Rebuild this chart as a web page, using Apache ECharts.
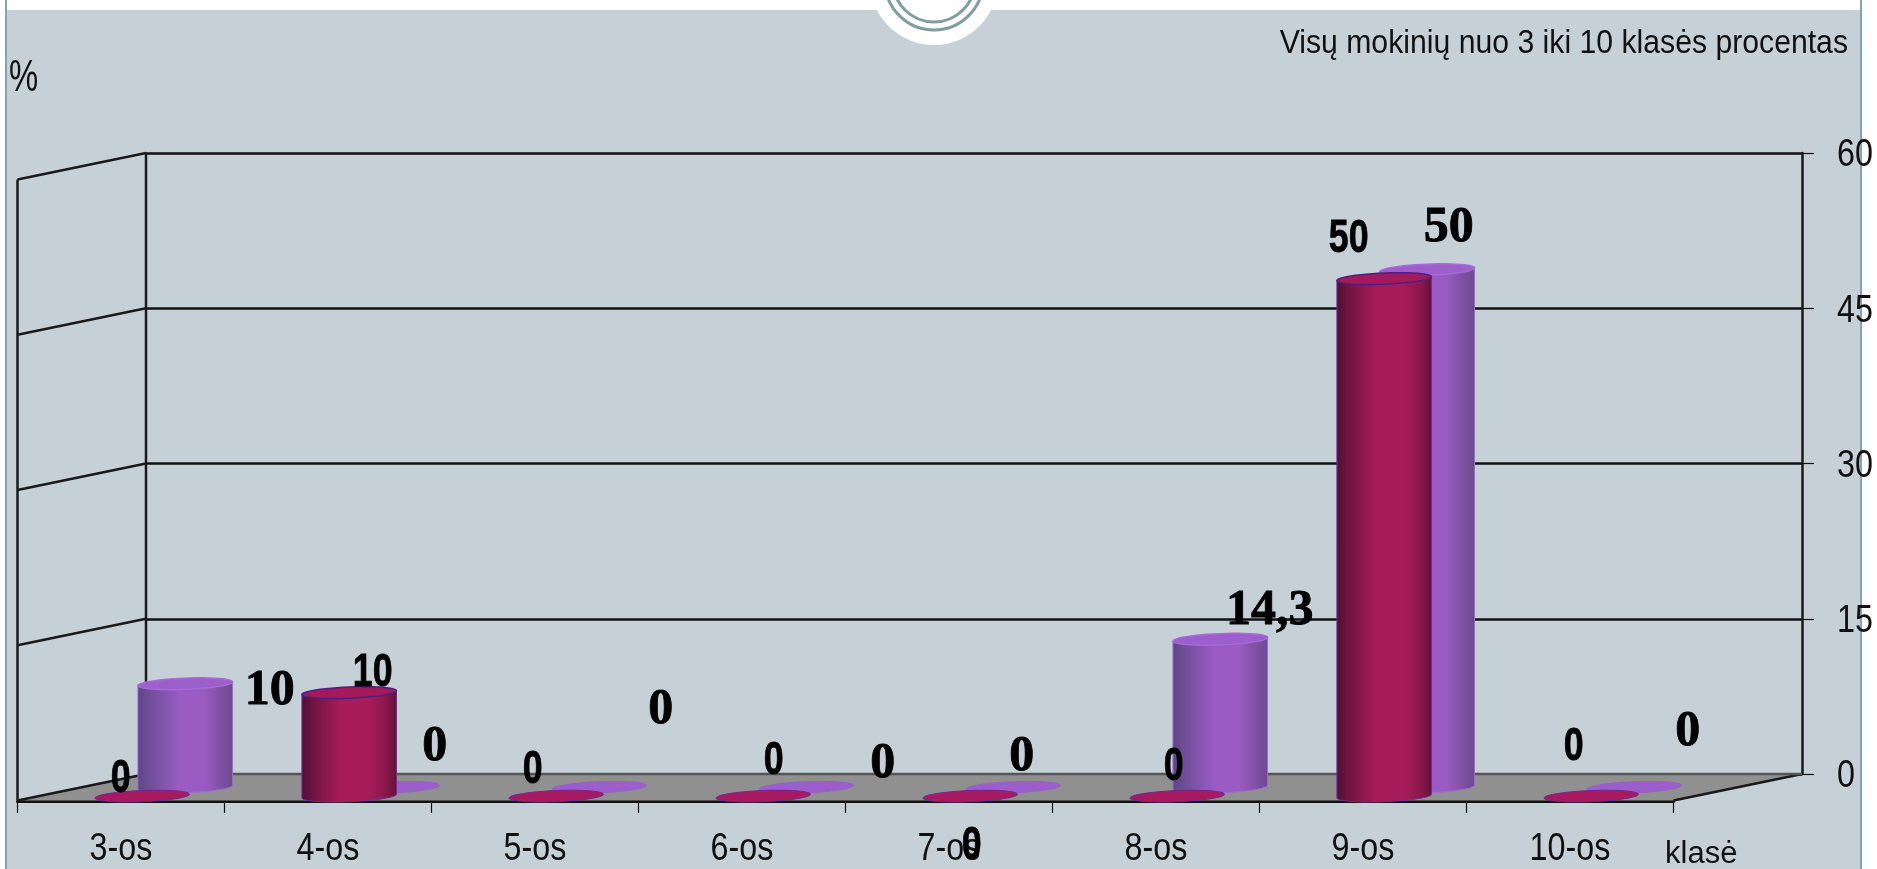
<!DOCTYPE html>
<html>
<head>
<meta charset="utf-8">
<style>html,body{margin:0;padding:0;background:#fff}#c{width:1877px;height:869px}</style>
<script src="https://cdn.jsdelivr.net/npm/echarts@6/dist/echarts.min.js"></script>
</head>
<body>
<div id="c"></div>
<script>
var categories = ['3-os','4-os','5-os','6-os','7-os','8-os','9-os','10-os'];
var frontValues = [0,10,0,0,0,0,50,0];
var backValues = [10,0,0,0,0,14.3,50,0];
var yMin = 0, yMax = 60, yStep = 15;
var yTicks = [0,15,30,45,60];
var titleText = 'Visų mokinių nuo 3 iki 10 klasės procentas';
var unitText = '%';
var axisName = 'klasė';

// label nudges, pixels from the top centre of each mark
var frontLabelNudge = [[-23,-21],[22,-23],[-25,-30],[9,-39],[0,46],[-5,-33],[-37,-43],[-19,-53]];
var backLabelNudge = [[83,4],[41,-44],[60,-81],[75,-27],[7,-34],[48,-32],[20,-45],[52,-59]];

var SANS = '"Liberation Sans",sans-serif';
var SERIF = '"Liberation Serif",serif';
var NARROW_X = 0.85;
var DEPTH_X = -128.5, DEPTH_Y = 26.5;
var FRONT_D = 0.835, BACK_D = 0.5;   // share of the depth from back wall to the front edge
var RX = 47.3, RY = 5.6, TILT = 0.04;

function ellipsePts(cx, cy, rx, ry) {
  var p = [];
  for (var k = 0; k < 48; k++) {
    var a = k / 48 * Math.PI * 2, x = cx + rx * Math.cos(a);
    p.push([x, cy + ry * Math.sin(a) - TILT * (x - cx)]);
  }
  return p;
}
function bodyPts(cx, yTop, yBase) {
  var p = [[cx - RX, yTop + TILT * RX]];
  for (var k = 0; k <= 24; k++) {
    var a = Math.PI - k / 24 * Math.PI, x = cx + RX * Math.cos(a);
    p.push([x, yBase + RY * Math.sin(a) - TILT * (x - cx)]);
  }
  p.push([cx + RX, yTop - TILT * RX]);
  return p;
}
function grad(stops) {
  return new echarts.graphic.LinearGradient(0, 0, 1, 0, stops.map(function (s) { return { offset: s[0], color: s[1] }; }));
}
function cylinderRender(d, stops, topFill, topStroke, edge, discFill, discStroke) {
  return function (params, api) {
    var top = api.coord([api.value(0), api.value(1)]);
    var base = api.coord([api.value(0), 0]);
    var cx = top[0] + d * DEPTH_X;
    var yTop = top[1] + d * DEPTH_Y;
    var yBase = base[1] + d * DEPTH_Y;
    if (api.value(1) === 0) {
      return { type: 'polygon', shape: { points: ellipsePts(cx, yBase, RX, RY) }, style: { fill: discFill, stroke: discStroke, lineWidth: 1 } };
    }
    return {
      type: 'group',
      children: [
        { type: 'polygon', shape: { points: bodyPts(cx, yTop, yBase) }, style: { fill: grad(stops), stroke: edge, lineWidth: 1 } },
        { type: 'polygon', shape: { points: ellipsePts(cx, yTop, RX, RY) }, style: { fill: topFill, stroke: topStroke, lineWidth: 1.5 } }
      ]
    };
  };
}
function squeezedText(x, y, text, font, scale, align, heavy) {
  var style = { x: 0, y: 0, text: text, font: font, fill: heavy ? '#000' : '#111', align: align, verticalAlign: 'middle' };
  if (heavy) { style.stroke = '#000'; style.lineWidth = 0.8; }
  return { type: 'text', x: x, y: y, scaleX: scale, silent: true, style: style };
}
function labelRender(d, nudge, font, scale) {
  return function (params, api) {
    var top = api.coord([api.value(0), api.value(1)]);
    var n = nudge[params.dataIndex];
    return squeezedText(top[0] + d * DEPTH_X + n[0] + 1.5, top[1] + d * DEPTH_Y + n[1] + 3.5,
      String(api.value(1)).replace('.', ','), font, scale, 'center', true);
  };
}
function xLabelRender(params, api) {
  var p = api.coord([api.value(0), 0]);
  return squeezedText(p[0], p[1] + 49, categories[params.dataIndex], '38px ' + SANS, NARROW_X, 'center');
}
function yLabelRender(params, api) {
  var r = params.coordSys;
  var y = api.coord([0, api.value(1)])[1];
  return squeezedText(r.x + r.width + 35, y + 3, String(api.value(1)), '38px ' + SANS, NARROW_X, 'left');
}
function frameRender(params, api) {
  var r = params.coordSys;
  var y = api.coord([0, api.value(1)])[1];
  var lineStyle = { stroke: '#1a1a1a', lineWidth: 2.5 };
  var kids = [];
  if (params.dataIndex === 0) {
    kids.push({ type: 'polygon', shape: { points: [[r.x, y], [r.x + r.width, y], [r.x + r.width + DEPTH_X, y + DEPTH_Y], [r.x + DEPTH_X, y + DEPTH_Y]] }, style: { fill: '#909090' } });
    kids.push({ type: 'line', shape: { x1: r.x, y1: r.y, x2: r.x, y2: y }, style: lineStyle });
    kids.push({ type: 'line', shape: { x1: r.x + DEPTH_X, y1: r.y + DEPTH_Y, x2: r.x + DEPTH_X, y2: y + DEPTH_Y }, style: lineStyle });
    kids.push({ type: 'line', shape: { x1: r.x + r.width, y1: y, x2: r.x + r.width + DEPTH_X, y2: y + DEPTH_Y }, style: lineStyle });
    kids.push({ type: 'line', shape: { x1: r.x, y1: y, x2: r.x + r.width, y2: y }, style: { stroke: '#555', lineWidth: 2.5 } });
  }
  kids.push({ type: 'line', shape: { x1: r.x, y1: y, x2: r.x + DEPTH_X, y2: y + DEPTH_Y }, style: lineStyle });
  return { type: 'group', children: kids };
}
function pairs(vals) { return vals.map(function (v, i) { return [i, v]; }); }

var chart = echarts.init(document.getElementById('c'), null, { renderer: 'canvas' });
chart.setOption({
  animation: false,
  backgroundColor: '#ffffff',
  grid: [
    { left: 146, width: 1656, top: 153, height: 621 },
    { left: 17.5, width: 1656, top: 701, height: 100 }
  ],
  xAxis: [
    { type: 'category', gridIndex: 0, data: categories, show: false },
    {
      type: 'category', gridIndex: 1, data: categories,
      axisLine: { show: true, onZero: false, lineStyle: { color: '#111', width: 3 } },
      axisTick: { show: true, length: 12, lineStyle: { color: '#111', width: 1.2 } },
      axisLabel: { show: false }
    }
  ],
  yAxis: [
    {
      type: 'value', gridIndex: 0, position: 'right', min: yMin, max: yMax, interval: yStep,
      axisLine: { show: true, lineStyle: { color: '#1a1a1a', width: 2.5 } },
      axisTick: { show: true, length: 12, lineStyle: { color: '#111', width: 1.2 } },
      axisLabel: { show: false },
      splitLine: { show: true, lineStyle: { color: '#111', width: 2.5 } }
    },
    { type: 'value', gridIndex: 1, min: 0, max: 1, show: false }
  ],
  series: [
    { type: 'custom', name: 'frame', xAxisIndex: 0, yAxisIndex: 0, z: 2, clip: false, silent: true,
      data: yTicks.map(function (v) { return [0, v]; }), renderItem: frameRender },
    { type: 'custom', name: 'back', xAxisIndex: 0, yAxisIndex: 0, z: 3, clip: false, data: pairs(backValues),
      renderItem: cylinderRender(BACK_D,
        [[0, '#5d4585'], [0.12, '#6f4e98'], [0.45, '#9a5cc4'], [0.7, '#995bc2'], [0.9, '#7c4f9e'], [1, '#6a4a8e']],
        '#9c5fcb', '#a56bd8', '#a469d6', '#9b5fcb', '#9b5fcb') },
    { type: 'custom', name: 'front', xAxisIndex: 0, yAxisIndex: 0, z: 4, clip: false, data: pairs(frontValues),
      renderItem: cylinderRender(FRONT_D,
        [[0, '#4c1038'], [0.12, '#6e1440'], [0.4, '#a51c58'], [0.72, '#a51c58'], [0.9, '#86174a'], [1, '#5f1238']],
        '#a21a5c', '#4d1f84', '#7a2a9a', '#a81a60', '#6a2a9a') },
    { type: 'custom', name: 'backLabels', xAxisIndex: 0, yAxisIndex: 0, z: 5, clip: false, silent: true, data: pairs(backValues),
      renderItem: labelRender(BACK_D, backLabelNudge, 'bold 50px ' + SERIF, 1) },
    { type: 'custom', name: 'frontLabels', xAxisIndex: 0, yAxisIndex: 0, z: 5, clip: false, silent: true, data: pairs(frontValues),
      renderItem: labelRender(FRONT_D, frontLabelNudge, 'bold 47px ' + SANS, 0.76) },
    { type: 'custom', name: 'categoryLabels', xAxisIndex: 1, yAxisIndex: 1, z: 4, clip: false, silent: true,
      data: categories.map(function (c, i) { return [i, 0]; }), renderItem: xLabelRender },
    { type: 'custom', name: 'valueLabels', xAxisIndex: 0, yAxisIndex: 0, z: 4, clip: false, silent: true,
      data: yTicks.map(function (v) { return [0, v]; }), renderItem: yLabelRender }
  ],
  graphic: [
    { type: 'rect', z: -20, silent: true, shape: { x: 7, y: 10, width: 1853, height: 859 }, style: { fill: '#c6d1d7' } },
    { type: 'rect', z: -19, silent: true, shape: { x: 5, y: 0, width: 2, height: 869 }, style: { fill: '#86a5a5' } },
    { type: 'rect', z: -19, silent: true, shape: { x: 1860, y: 0, width: 2, height: 869 }, style: { fill: '#86a5a5' } },
    { type: 'circle', z: -18, silent: true, shape: { cx: 934, cy: -19, r: 64 }, style: { fill: '#ffffff' } },
    { type: 'circle', z: -17, silent: true, shape: { cx: 934, cy: -19, r: 49 }, style: { fill: '#ffffff', stroke: '#7f9d9b', lineWidth: 3 } },
    { type: 'circle', z: -16, silent: true, shape: { cx: 934, cy: -19, r: 41 }, style: { fill: '#ffffff', stroke: '#7f9d9b', lineWidth: 3 } },
    { type: 'text', z: 10, silent: true, x: 1848, y: 44, scaleX: 0.888, style: { x: 0, y: 0, text: titleText, font: '34px ' + SANS, fill: '#111', align: 'right', verticalAlign: 'middle' } },
    { type: 'text', z: 10, silent: true, x: 9, y: 79, scaleX: 0.73, style: { x: 0, y: 0, text: unitText, font: '45px ' + SANS, fill: '#111', verticalAlign: 'middle' } },
    { type: 'text', z: 10, silent: true, x: 1665, y: 854, style: { x: 0, y: 0, text: axisName, font: '31px ' + SANS, fill: '#111', verticalAlign: 'middle' } }
  ]
});
</script>
</body>
</html>
